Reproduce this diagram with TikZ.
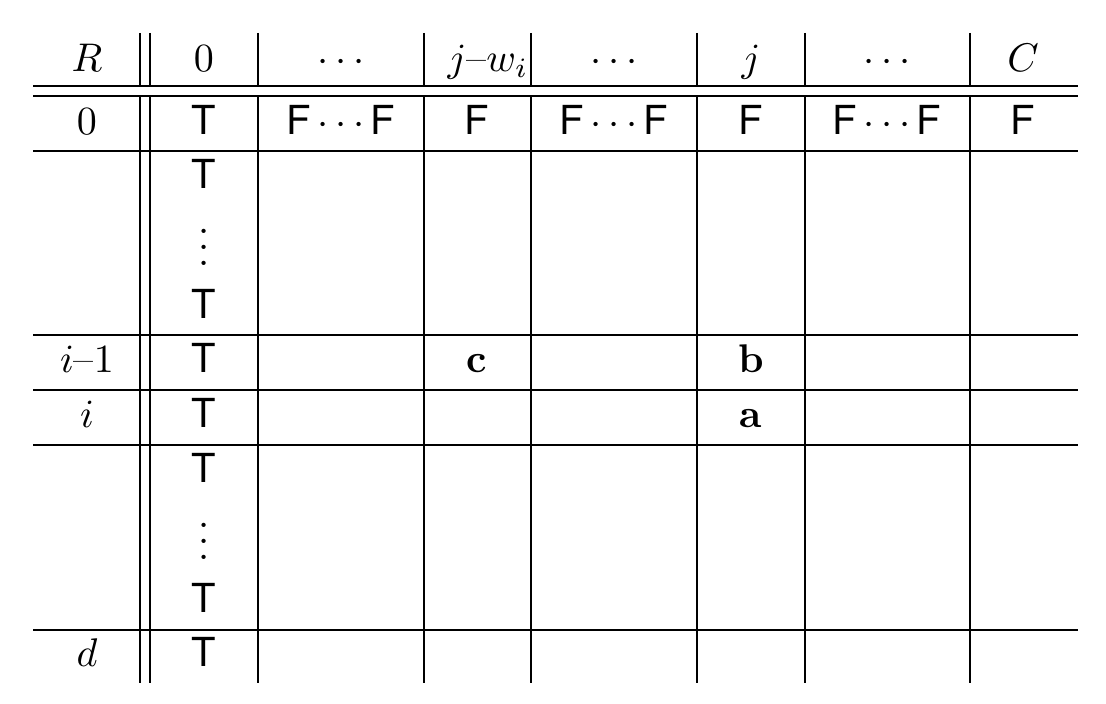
\documentclass[tikz,border=0pt]{standalone}
\usepackage{fontspec}
\setsansfont{TeX Gyre Heros}
\begin{document}
\begin{tikzpicture}[x=0.25pt,y=-0.25pt,
  rule/.style={line width=0.45pt},
  lbl/.style={anchor=base,inner sep=0pt,font=\fontsize{10}{12}\selectfont},
  tf/.style={lbl,font=\fontsize{10}{12}\selectfont\sffamily}]
\useasboundingbox (0,0) rectangle (1106,704);
% horizontal rules
\foreach \y in {86,96,151,335,390,445,630}
  \draw[rule] (33,\y) -- (1078,\y);
% vertical rules (interrupted between the double rule)
\foreach \x in {140,150,258,424,531,697,805,970}{
  \draw[rule] (\x,33) -- (\x,86);
  \draw[rule] (\x,96) -- (\x,683);}
% header
\node[lbl] (hR) at (87,72) {$R$};
\node[lbl] (h0) at (204,72) {$0$};
\node[lbl] (hd1) at (341,72) {$\cdots$};
\node[lbl] (hjw) at (488,72) {$j$--$w_i$};
\node[lbl] (hd2) at (614,72) {$\cdots$};
\node[lbl] (hj) at (751,72) {$j$};
\node[lbl] (hd3) at (887,72) {$\cdots$};
\node[lbl] (hC) at (1023,72) {$C$};
% row 0
\node[lbl] (r0) at (87,135) {$0$};
\node[tf] (r0c1) at (204,135) {T};
\node[tf] (r0c2) at (341,135) {F\,$\cdots$\,F};
\node[tf] (r0c3) at (477,135) {F};
\node[tf] (r0c4) at (614,135) {F\,$\cdots$\,F};
\node[tf] (r0c5) at (751,135) {F};
\node[tf] (r0c6) at (887,135) {F\,$\cdots$\,F};
\node[tf] (r0c7) at (1023,135) {F};
% block 1
\node[tf] (b1t1) at (204,189) {T};
\node[lbl] (b1v) at (204,266) {$\vdots$};
\node[tf] (b1t2) at (204,319) {T};
% row i-1
\node[lbl] (ri1) at (87,373) {$i$--$1$};
\node[tf] (ri1c1) at (204,373) {T};
\node[lbl] (cc) at (477,373) {\textbf{c}};
\node[lbl] (cb) at (751,373) {\textbf{b}};
% row i
\node[lbl] (ri) at (87,428) {$i$};
\node[tf] (ric1) at (204,428) {T};
\node[lbl] (ca) at (751,428) {\textbf{a}};
% block 2
\node[tf] (b2t1) at (204,483) {T};
\node[lbl] (b2v) at (204,560) {$\vdots$};
\node[tf] (b2t2) at (204,613) {T};
% row d
\node[lbl] (rd) at (87,667) {$d$};
\node[tf] (rdc1) at (204,667) {T};
\end{tikzpicture}
\end{document}
